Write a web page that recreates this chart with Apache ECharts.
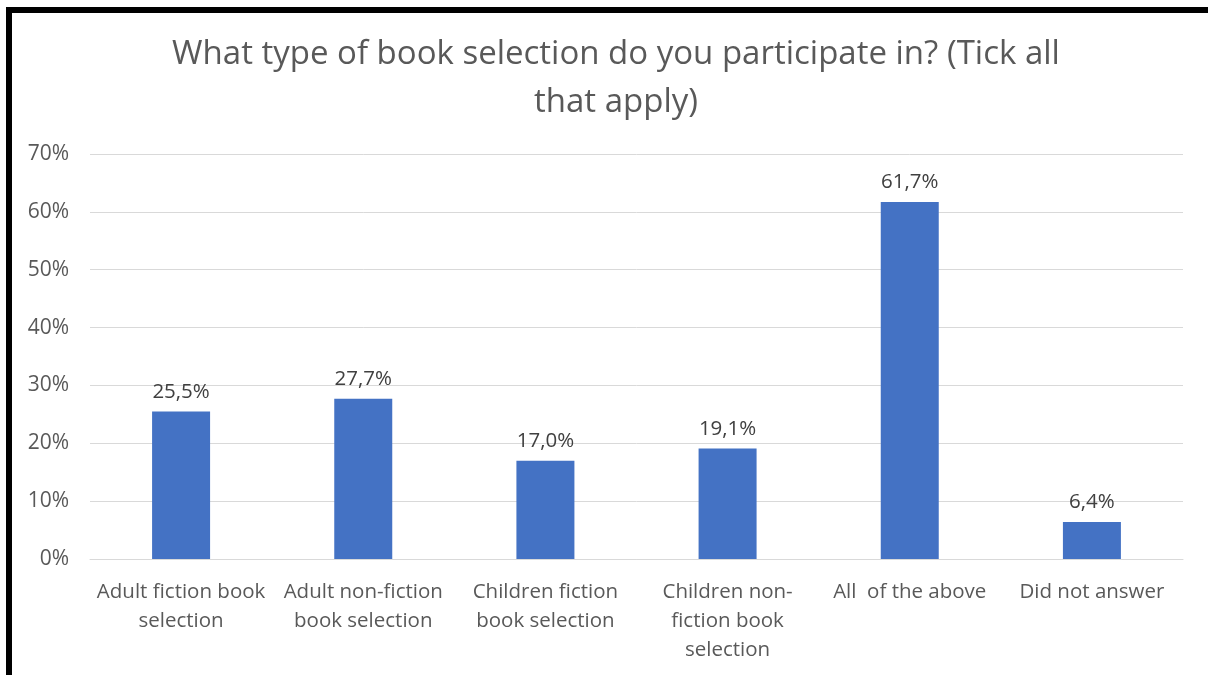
<!DOCTYPE html>
<html><head><meta charset="utf-8">
<script src="https://cdn.jsdelivr.net/npm/echarts@6/dist/echarts.min.js"></script>
<style>html,body{margin:0;padding:0;background:#fff}#c{width:1208px;height:675px}</style>
</head><body><div id="c"></div>
<script>
const titleText = "What type of book selection do you participate in? (Tick all\nthat apply)";
const categories = ["Adult fiction book\nselection", "Adult non-fiction\nbook selection", "Children fiction\nbook selection", "Children non-\nfiction book\nselection", "All  of the above", "Did not answer"];
const values = [25.5, 27.7, 17.0, 19.1, 61.7, 6.4];
const yTicks = [0, 10, 20, 30, 40, 50, 60, 70];

const font = "Open Sans";
const chart = echarts.init(document.getElementById('c'));
chart.setOption({
  animation: false,
  backgroundColor: '#fff',
  title: {
    text: titleText, left: 611, top: 26,
    textAlign: 'center',
    textStyle: {fontFamily: font, fontSize: 33, fontWeight: 'normal', color: '#595959', lineHeight: 48}
  },
  grid: {left: 90, right: 25, top: 154, bottom: 116, containLabel: false},
  xAxis: {
    type: 'category', data: categories,
    axisLine: {lineStyle: {color: '#d9d9d9', width: 1}},
    axisTick: {show: false},
    axisLabel: {fontFamily: font, fontSize: 20.5, color: '#595959', lineHeight: 29, margin: 19, interval: 0}
  },
  yAxis: {
    type: 'value', min: yTicks[0], max: yTicks[yTicks.length-1], interval: 10,
    axisLine: {show: false}, axisTick: {show: false},
    splitLine: {lineStyle: {color: '#d9d9d9', width: 1}},
    axisLabel: {fontFamily: font, fontSize: 21, color: '#595959', margin: 21, formatter: v => v + '%'}
  },
  series: [{
    type: 'bar', data: values, barWidth: 58,
    itemStyle: {color: '#4472c4'},
    label: {show: true, position: 'top', distance: 9, fontFamily: font, fontSize: 20.5, color: '#404040',
      formatter: p => p.value.toFixed(1).replace('.', ',') + '%'}
  }],
  graphic: [{
    type: 'rect', shape: {x: 9, y: 10, width: 1300, height: 800},
    style: {fill: 'none', stroke: '#000', lineWidth: 6}, silent: true, z: 100
  }]
});
</script></body></html>
